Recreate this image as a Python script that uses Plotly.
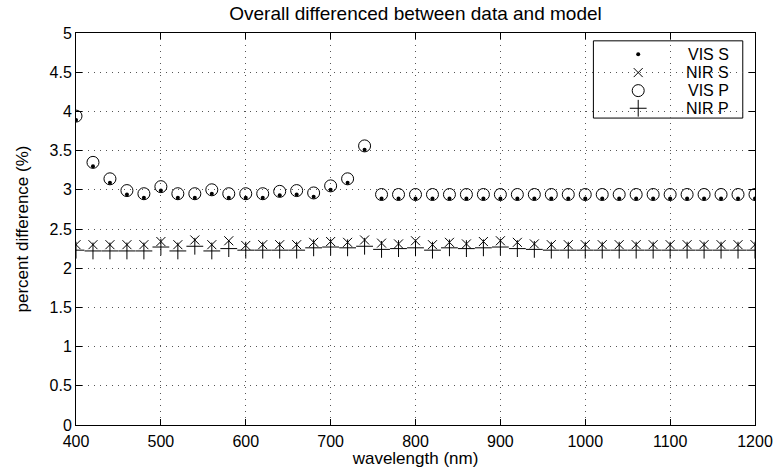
import plotly.graph_objects as go

# Wavelength grid (nm)
wavelength = list(range(400, 1201, 20))

# Percent difference, visible channel, P polarisation
vis_p = [3.94, 3.35, 3.14, 2.99, 2.95, 3.04, 2.95, 2.95, 3.00, 2.95,
         2.95, 2.95, 2.98, 2.99, 2.96, 3.05, 3.14, 3.56] + [2.94] * 23
# Percent difference, visible channel, S polarisation
vis_s = [3.89, 3.30, 3.09, 2.94, 2.90, 2.99, 2.90, 2.90, 2.95, 2.90,
         2.90, 2.90, 2.93, 2.94, 2.91, 3.00, 3.09, 3.51] + [2.89] * 23
# Percent difference, near-infrared channel, S polarisation
nir_s = [2.30, 2.30, 2.30, 2.30, 2.30, 2.34, 2.30, 2.36, 2.30, 2.35,
         2.29, 2.30, 2.30, 2.30, 2.33, 2.34, 2.33, 2.36, 2.32, 2.31,
         2.35, 2.30, 2.33, 2.31, 2.34, 2.35, 2.33, 2.31, 2.30, 2.30,
         2.30, 2.30, 2.30, 2.30, 2.30, 2.30, 2.30, 2.30, 2.30, 2.30, 2.30]
# Percent difference, near-infrared channel, P polarisation
nir_p = [2.23, 2.22, 2.22, 2.22, 2.22, 2.27, 2.22, 2.28, 2.22, 2.25,
         2.23, 2.23, 2.23, 2.23, 2.26, 2.27, 2.26, 2.28, 2.24, 2.25,
         2.26, 2.23, 2.26, 2.25, 2.26, 2.27, 2.25, 2.24, 2.23, 2.23,
         2.23, 2.23, 2.23, 2.23, 2.23, 2.23, 2.23, 2.23, 2.23, 2.23, 2.23]

series_names = ["VIS S", "NIR S", "VIS P", "NIR P"]

FONT = "Liberation Sans, Arial, Helvetica, sans-serif"

# Marker styles per series
styles = {
    "VIS S": dict(symbol="circle", size=4, color="black"),
    "NIR S": dict(symbol="x-thin-open", size=9, color="black",
                  line=dict(color="black", width=1)),
    "VIS P": dict(symbol="circle-open", size=12, color="black",
                  line=dict(color="black", width=1)),
    "NIR P": dict(symbol="cross-thin-open", size=12, color="black",
                  line=dict(color="black", width=1)),
}
values = {"VIS S": vis_s, "NIR S": nir_s, "VIS P": vis_p, "NIR P": nir_p}

fig = go.Figure()
for name in series_names:
    fig.add_trace(go.Scatter(x=wavelength, y=values[name], mode="markers",
                             name=name, marker=styles[name], showlegend=False))

# Boxed legend in the upper-right corner (symbols on an overlay axis)
leg_x0, leg_x1, leg_y0, leg_y1 = 0.762, 0.982, 0.783, 0.980
leg_sym_x = 0.828
leg_text_x = 0.965
leg_rows = [0.946, 0.899, 0.853, 0.808]

fig.add_shape(type="rect", xref="paper", yref="paper",
              x0=leg_x0, x1=leg_x1, y0=leg_y0, y1=leg_y1,
              line=dict(color="black", width=1), fillcolor="white",
              layer="between")
for name, ry in zip(series_names, leg_rows):
    fig.add_trace(go.Scatter(x=[leg_sym_x], y=[ry], mode="markers",
                             marker=styles[name], xaxis="x2", yaxis="y2",
                             showlegend=False, hoverinfo="skip"))
    fig.add_annotation(x=leg_text_x, y=ry, xref="paper", yref="paper",
                       text=name, showarrow=False, xanchor="right",
                       yanchor="middle",
                       font=dict(family=FONT, size=16, color="black"))

axis_common = dict(
    showline=True, linecolor="black", linewidth=1, mirror="ticks",
    ticks="inside", ticklen=6, tickcolor="black",
    showgrid=True, gridcolor="#555555", gridwidth=1, griddash="1px,5px",
    zeroline=False, tickfont=dict(family=FONT, size=16, color="black"),
    automargin=False, ticklabeloverflow="allow",
)

fig.update_layout(
    width=773, height=468,
    margin=dict(l=76, r=18, t=33, b=43),
    paper_bgcolor="white", plot_bgcolor="white",
    font=dict(family=FONT, color="black"),
    title=dict(text="Overall differenced between data and model",
               xref="paper", x=0.5, xanchor="center", y=0.972, yanchor="middle",
               font=dict(family=FONT, size=19, color="black")),
    xaxis=dict(range=[400, 1200], dtick=100, tick0=400, ticklabelstandoff=2,
               title=dict(text="wavelength (nm)", standoff=0,
                          font=dict(family=FONT, size=17)),
               **axis_common),
    yaxis=dict(range=[0, 5], dtick=0.5, tick0=0,
               title=dict(text="percent difference (%)", standoff=16,
                          font=dict(family=FONT, size=17)),
               **axis_common),
    xaxis2=dict(overlaying="x", range=[0, 1], visible=False),
    yaxis2=dict(overlaying="y", range=[0, 1], visible=False),
    showlegend=False,
)

fig.write_html("out.html")
